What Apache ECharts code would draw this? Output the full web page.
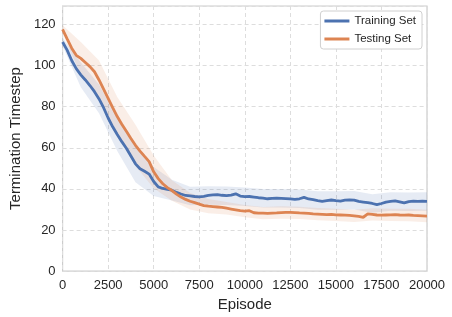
<!DOCTYPE html>
<html>
<head>
<meta charset="utf-8">
<script src="https://cdn.jsdelivr.net/npm/echarts@6/dist/echarts.min.js"></script>
<style>html,body{margin:0;padding:0;background:#fff}#c{width:452px;height:317px}</style>
</head>
<body>
<div id="c"></div>
<script>
// Episodes for mean curves (step 250)
var episodes = [];
for (var e = 0; e <= 20000; e += 250) episodes.push(e);

var trainMean = [111.5,107.5,102.5,98.5,95.5,93,90.3,87.3,83.8,79.5,74.5,70.2,66.5,63,59.8,56,52.2,49.8,48.6,47.2,43.6,41,40.2,39.8,39.4,38.3,37.5,36.8,36.6,36.3,36.1,36.4,36.8,37.1,37.2,36.9,36.7,37,37.6,36.5,36.2,36.3,36,35.7,35.5,35.2,35.4,35.5,35.4,35.3,35.1,34.9,35.2,35.9,35.1,34.8,34.3,33.9,34.3,34.6,34.3,34.1,34.5,34.6,34.5,33.9,33.6,33.3,32.9,32.3,32.9,33.6,33.9,34.2,33.7,33.2,33.8,34,33.9,34,33.9];

var testMean = [117.6,113,108.5,105,103.5,101.5,99.5,97,93,88.5,84,79.5,75.2,71.5,68,64.5,61.2,58.4,55.8,53.3,48.3,45,42.5,40.6,39.2,37.5,36,34.9,34,33.3,32.6,31.9,31.6,31.4,31.2,31,30.6,30.2,29.8,29.4,29.2,29.4,28.4,28.2,28.2,28.1,28.2,28.3,28.5,28.6,28.6,28.5,28.3,28.2,28.1,27.8,27.7,27.6,27.5,27.6,27.4,27.3,27.2,27.1,26.9,26.6,26.2,27.8,27.6,27.3,27.2,27.3,27.4,27.5,27.3,27.2,27.3,27.1,27,26.9,26.8];

// Band half-widths (step 1000)
var bandEpisodes = [0,1000,2000,3000,4000,5000,6000,7000,8000,9000,10000,11000,12000,13000,14000,15000,16000,17000,18000,19000,20000];
var trainSpread = [2,6,7,8,9,7,5,4.5,4.5,4.5,4.5,4.5,4.5,4.5,4.5,4.5,4.5,4.5,4.5,4.5,4.5];
var testSpread  = [2,8,9.5,9.5,10,8,5,4,3.5,3,3,3,3,3,3,3,3,3,3,3,3];

var xTicks = [0,2500,5000,7500,10000,12500,15000,17500,20000];
var yTicks = [0,20,40,60,80,100,120];

var blue = '#4c72b0', orange = '#dd8452';

function meanAt(arr, ep) { return arr[Math.round(ep / 250)]; }
function bandData(meanArr, spread) {
  var d = [];
  for (var i = 0; i < bandEpisodes.length; i++) {
    var m = meanAt(meanArr, bandEpisodes[i]);
    d.push([bandEpisodes[i], m - spread[i], m + spread[i]]);
  }
  return d;
}
function bandSeries(data, color) {
  return {
    type:'custom', silent:true, z:1,
    data:data,
    encode:{x:0, y:[1,2]},
    renderItem:function(params, api){
      if (params.dataIndex !== 0) return null;
      var up = [], lo = [];
      for (var i = 0; i < data.length; i++) {
        up.push(api.coord([data[i][0], data[i][2]]));
        lo.push(api.coord([data[i][0], data[i][1]]));
      }
      var pts = up.concat(lo.reverse());
      return {type:'polygon', shape:{points:pts}, style:{fill:color, opacity:0.14}};
    }
  };
}
function pairs(arr) { return episodes.map(function(e,i){return [e, arr[i]];}); }

var chart = echarts.init(document.getElementById('c'), null, {renderer:'canvas'});
var font = 'Liberation Sans, Arial, sans-serif';
chart.setOption({
  animation:false,
  textStyle:{fontFamily:font},
  grid:{left:52, right:25, top:6, bottom:43, show:true, borderColor:'#cccccc', borderWidth:1.2},
  legend:{
    data:['Training Set','Testing Set'],
    orient:'vertical', right:30, top:11,
    itemWidth:25, itemHeight:3, itemGap:6,
    icon:'rect',
    backgroundColor:'#fff', borderColor:'#d0d0d0', borderWidth:1, borderRadius:3,
    padding:[4,6,4,4],
    textStyle:{fontSize:11.5, color:'#262626', fontFamily:font}
  },
  xAxis:{
    type:'value', min:0, max:20000, interval:2500,
    name:'Episode', nameLocation:'middle', nameGap:21,
    nameTextStyle:{fontSize:15, color:'#262626', fontFamily:font},
    axisLine:{show:false}, axisTick:{show:false},
    axisLabel:{fontSize:13, color:'#262626', margin:8, fontFamily:font,
      formatter:function(v){return xTicks.indexOf(v)>=0 ? String(v) : '';}},
    splitLine:{show:true, lineStyle:{color:'#dddddd', type:[4,3], width:1}}
  },
  yAxis:{
    type:'value', min:0, max:129, interval:20,
    name:'Termination Timestep', nameLocation:'middle', nameGap:34,
    nameTextStyle:{fontSize:15, color:'#262626', fontFamily:font},
    axisLine:{show:false}, axisTick:{show:false},
    axisLabel:{fontSize:13, color:'#262626', margin:7, fontFamily:font,
      formatter:function(v){return yTicks.indexOf(v)>=0 ? String(v) : '';}},
    splitLine:{show:true, lineStyle:{color:'#dddddd', type:[4,3], width:1}}
  },
  series: [
    bandSeries(bandData(trainMean, trainSpread), blue),
    bandSeries(bandData(testMean, testSpread), orange),
    {name:'Training Set', type:'line', data:pairs(trainMean), symbol:'none', color:blue, lineStyle:{color:blue, width:2.8}, z:3},
    {name:'Testing Set', type:'line', data:pairs(testMean), symbol:'none', color:orange, lineStyle:{color:orange, width:2.8}, z:3}
  ]
});
</script>
</body>
</html>
